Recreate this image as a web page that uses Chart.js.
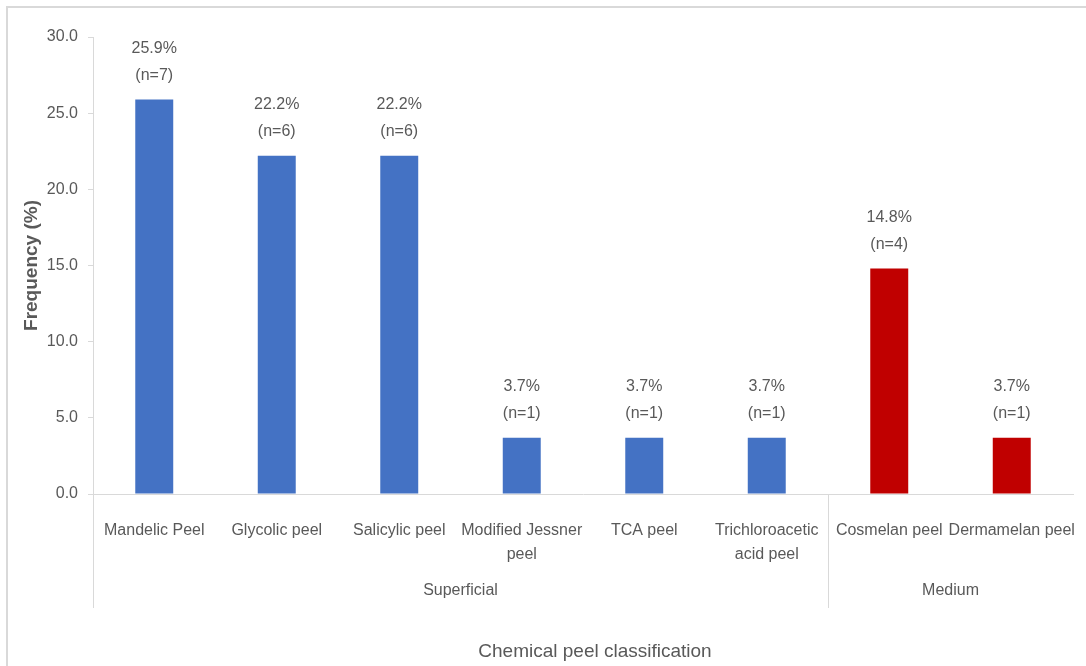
<!DOCTYPE html>
<html>
<head>
<meta charset="utf-8">
<script src="https://cdn.jsdelivr.net/npm/chart.js@4.4.1/dist/chart.umd.min.js"></script>
<style>
  html, body { margin: 0; padding: 0; background: #ffffff; overflow: hidden; }
  #wrap { position: relative; width: 1086px; height: 666px; }
  #frame { position: absolute; left: 6px; top: 6px; width: 1200px; height: 800px;
           border-top: 2px solid #d9d9d9; border-left: 2px solid #d9d9d9; }
  canvas { position: absolute; left: 0; top: 0; }
</style>
</head>
<body>
<div id="wrap">
  <div id="frame"></div>
  <canvas id="c" width="1086" height="666"></canvas>
</div>
<script>
// ---- data ----
const categories = [
  ["Mandelic Peel"],
  ["Glycolic peel"],
  ["Salicylic peel"],
  ["Modified Jessner", "peel"],
  ["TCA peel"],
  ["Trichloroacetic", "acid peel"],
  ["Cosmelan peel"],
  ["Dermamelan peel"]
];
const frequencies = [25.9, 22.2, 22.2, 3.7, 3.7, 3.7, 14.8, 3.7];
const counts = [7, 6, 6, 1, 1, 1, 4, 1];
const groups = ["Superficial", "Superficial", "Superficial", "Superficial", "Superficial", "Superficial", "Medium", "Medium"];
const yTicks = [0, 5, 10, 15, 20, 25, 30];

const groupColors = { "Superficial": "#4472C4", "Medium": "#C00000" };
const FONT = "'Liberation Sans Narrow', 'Liberation Sans', 'Open Sans', sans-serif";
const TXT = "#595959";
const LINE = "#d9d9d9";

const extrasPlugin = {
  id: 'extras',
  afterDatasetsDraw(chart) {
    const ctx = chart.ctx;
    const meta = chart.getDatasetMeta(0);
    ctx.save();
    ctx.fillStyle = TXT;
    ctx.font = "16px " + FONT;
    ctx.textAlign = 'center';
    ctx.textBaseline = 'middle';
    meta.data.forEach((bar, i) => {
      ctx.fillText(frequencies[i].toFixed(1) + "%", bar.x, bar.y - 51);
      ctx.fillText("(n=" + counts[i] + ")", bar.x, bar.y - 24);
    });
    ctx.restore();
  },
  afterDraw(chart) {
    const ctx = chart.ctx;
    const xs = chart.scales.x;
    const area = chart.chartArea;
    const half = (xs.getPixelForValue(1) - xs.getPixelForValue(0)) / 2;
    ctx.save();
    ctx.strokeStyle = LINE;
    ctx.lineWidth = 1;
    const bottom = area.bottom + 114;
    let start = 0;
    const spans = [];
    for (let i = 1; i <= groups.length; i++) {
      if (i === groups.length || groups[i] !== groups[start]) {
        spans.push({ name: groups[start], from: start, to: i - 1 });
        start = i;
      }
    }
    spans.forEach((s) => {
      const left = xs.getPixelForValue(s.from) - half;
      const right = xs.getPixelForValue(s.to) + half;
      ctx.beginPath();
      ctx.moveTo(Math.round(left) + 0.5, area.bottom);
      ctx.lineTo(Math.round(left) + 0.5, bottom);
      ctx.stroke();
      ctx.fillStyle = TXT;
      ctx.font = "16px " + FONT;
      ctx.textAlign = 'center';
      ctx.textBaseline = 'middle';
      ctx.fillText(s.name, (left + right) / 2, area.bottom + 97);
    });
    ctx.font = "19px " + FONT;
    ctx.fillStyle = TXT;
    ctx.fillText("Chemical peel classification", 595, 652);
    ctx.translate(32, (area.top + area.bottom) / 2);
    ctx.rotate(-Math.PI / 2);
    ctx.font = "bold 19px " + FONT;
    ctx.fillText("Frequency (%)", 0, 0);
    ctx.restore();
  }
};

new Chart(document.getElementById('c'), {
  type: 'bar',
  data: {
    labels: categories,
    datasets: [{
      data: frequencies,
      backgroundColor: groups.map(g => groupColors[g]),
      borderWidth: 0,
      barPercentage: 0.31,
      categoryPercentage: 1.0
    }]
  },
  options: {
    responsive: false,
    animation: false,
    devicePixelRatio: 1,
    layout: { padding: { top: 37, left: 0, right: 13, bottom: 0 } },
    plugins: { legend: { display: false }, tooltip: { enabled: false } },
    scales: {
      x: {
        offset: true,
        grid: { display: false },
        border: { display: true, color: LINE, width: 1 },
        ticks: {
          color: TXT,
          font: { family: FONT, size: 16, lineHeight: 1.5 },
          padding: 17,
          maxRotation: 0,
          autoSkip: false
        },
        afterFit(scale) { scale.height = 172; scale.paddingLeft = 0; scale.paddingRight = 0; }
      },
      y: {
        min: 0,
        max: 30,
        afterBuildTicks(scale) { scale.ticks = yTicks.map(v => ({ value: v })); },
        grid: { display: true, drawOnChartArea: false, drawTicks: true, tickLength: 5, color: LINE },
        border: { display: true, color: LINE, width: 1 },
        ticks: {
          color: TXT,
          font: { family: FONT, size: 16 },
          padding: 10,
          callback: v => Number(v).toFixed(1)
        },
        afterFit(scale) { scale.width = 93; scale.paddingTop = 0; scale.paddingBottom = 0; }
      }
    }
  },
  plugins: [extrasPlugin]
});
</script>
</body>
</html>
